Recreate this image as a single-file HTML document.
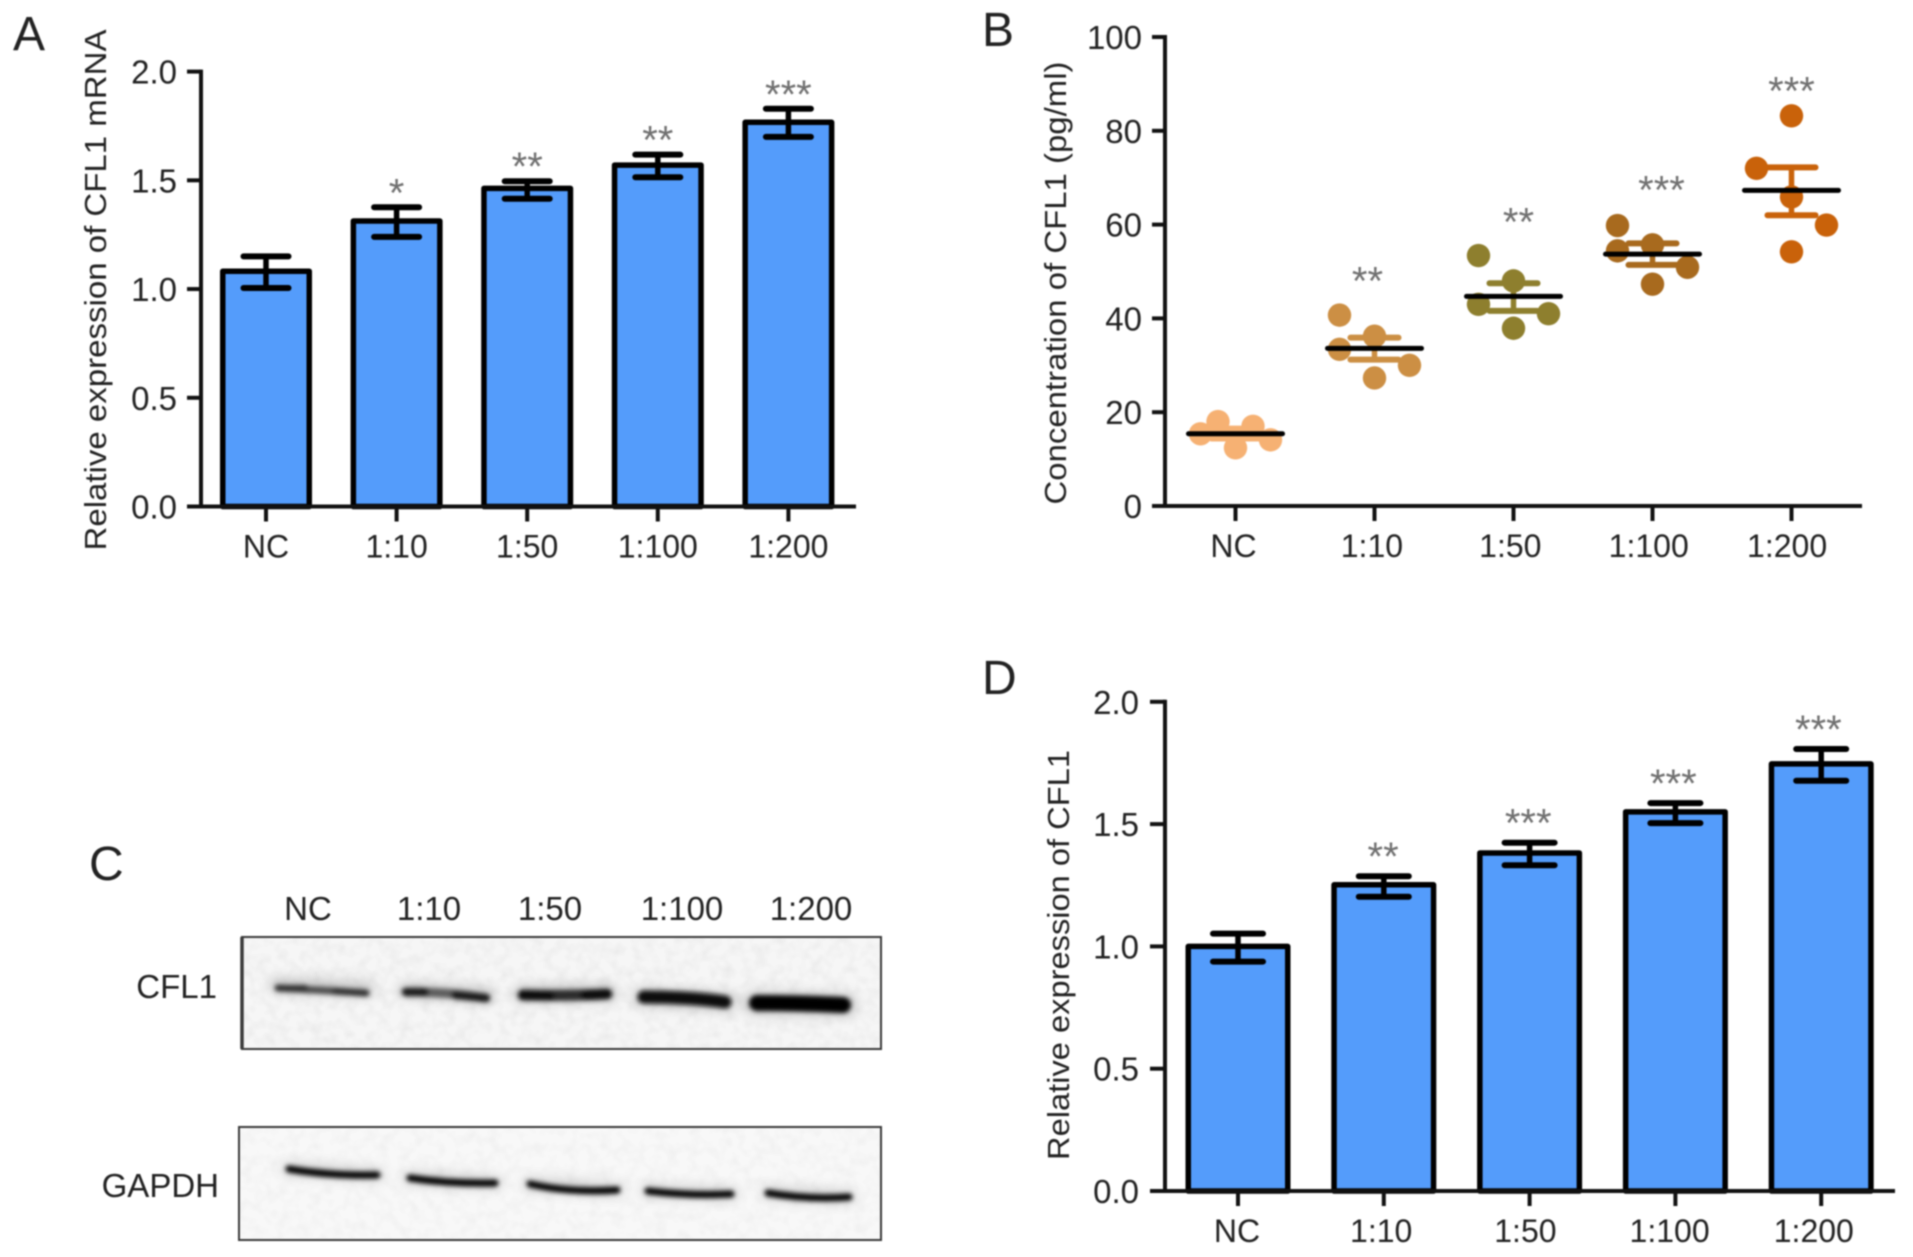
<!DOCTYPE html>
<html>
<head>
<meta charset="utf-8">
<title>CFL1 expression figure</title>
<style>
html,body{margin:0;padding:0;background:#fff;}
body{width:1913px;height:1257px;overflow:hidden;}
svg{display:block;filter:blur(0.7px);}
text{font-family:"Liberation Sans",sans-serif;fill:#222;}
</style>
</head>
<body>
<svg id="fig" xmlns="http://www.w3.org/2000/svg" width="1913" height="1257" viewBox="0 0 1913 1257">
  <defs>
    <filter id="bandBlur" x="-20%" y="-300%" width="140%" height="700%"><feGaussianBlur stdDeviation="2.4"/></filter>
    <filter id="haloBlur" x="-20%" y="-400%" width="140%" height="900%"><feGaussianBlur stdDeviation="6"/></filter>
    <filter id="blotNoise" x="0" y="0" width="100%" height="100%">
      <feTurbulence type="fractalNoise" baseFrequency="0.09" numOctaves="2" seed="7"/>
      <feColorMatrix type="matrix" values="0 0 0 0 0.55  0 0 0 0 0.55  0 0 0 0 0.55  0.9 0 0 0 -0.36"/>
    </filter>
  </defs>
  <rect width="1913" height="1257" fill="#fff"/>

  <text x="13" y="50" font-size="48">A</text>
  <text x="982" y="46" font-size="48">B</text>
  <text x="89" y="880" font-size="48">C</text>
  <text x="982" y="694" font-size="48">D</text>

  <g id="panelA"></g>
  <g id="panelB"></g>
  <g id="panelD"></g>

  <g>
    <g font-size="33">
      <text x="308" y="920" text-anchor="middle">NC</text>
      <text x="429" y="920" text-anchor="middle">1:10</text>
      <text x="550" y="920" text-anchor="middle">1:50</text>
      <text x="682" y="920" text-anchor="middle">1:100</text>
      <text x="811" y="920" text-anchor="middle">1:200</text>
      <text x="217" y="998" text-anchor="end">CFL1</text>
      <text x="219" y="1197" text-anchor="end">GAPDH</text>
    </g>
    <g>
      <rect x="242" y="937" width="639" height="112" fill="#f6f6f6"/>
      <rect x="242" y="937" width="639" height="112" filter="url(#blotNoise)" opacity="0.5"/>
      <g fill="none" stroke-linecap="round">
        <g filter="url(#haloBlur)" opacity="0.35" stroke="#666">
          <path d="M276 985 L368 989" stroke-width="14"/>
          <path d="M405 990 L488 995" stroke-width="14"/>
          <path d="M521 994 L609 993" stroke-width="16"/>
          <path d="M642 997 L727 1002" stroke-width="18"/>
          <path d="M754 1003 L846 1005" stroke-width="22"/>
        </g>
        <g filter="url(#bandBlur)">
          <path d="M278 988 Q320 990 366 993" stroke="#4a4a4a" stroke-width="7"/>
          <path d="M278 988 L305 988 M335 991 L366 993" stroke="#2a2a2a" stroke-width="6"/>
          <path d="M406 992 Q450 992 486 998" stroke="#5c5c5c" stroke-width="9"/>
          <path d="M406 992 L425 992 M455 995 L486 998" stroke="#141414" stroke-width="8"/>
          <path d="M523 995 Q570 996 607 994" stroke="#2c2c2c" stroke-width="11"/>
          <path d="M523 995 L550 996 M585 995 L607 994" stroke="#0a0a0a" stroke-width="9"/>
          <path d="M644 997 Q690 997 725 1002" stroke="#0c0c0c" stroke-width="13"/>
          <path d="M757 1003 Q800 1003 843 1005" stroke="#000" stroke-width="16"/>
        </g>
      </g>
      <rect x="242" y="937" width="639" height="112" fill="none" stroke="#3a3a3a" stroke-width="2"/>
      <line x1="242" y1="937" x2="242" y2="1049" stroke="#3a3a3a" stroke-width="3.5"/>
    </g>
    <g>
      <rect x="239" y="1127" width="642" height="113" fill="#f8f8f8"/>
      <rect x="239" y="1127" width="642" height="113" filter="url(#blotNoise)" opacity="0.35"/>
      <g fill="none" stroke-linecap="round">
        <g filter="url(#haloBlur)" opacity="0.3" stroke="#666">
          <path d="M288 1169 L378 1175" stroke-width="12"/>
          <path d="M409 1178 L496 1183" stroke-width="12"/>
          <path d="M529 1184 L618 1190" stroke-width="12"/>
          <path d="M647 1191 L732 1194" stroke-width="12"/>
          <path d="M767 1193 L850 1197" stroke-width="12"/>
        </g>
        <g filter="url(#bandBlur)">
          <path d="M289 1169 Q330 1176 377 1175" stroke="#000" stroke-width="7"/>
          <path d="M410 1178 Q450 1184 495 1183" stroke="#000" stroke-width="7"/>
          <path d="M530 1184 Q570 1193 617 1190" stroke="#000" stroke-width="7"/>
          <path d="M648 1191 Q690 1196 731 1194" stroke="#050505" stroke-width="7"/>
          <path d="M768 1193 Q810 1200 849 1197" stroke="#050505" stroke-width="7"/>
        </g>
      </g>
      <rect x="239" y="1127" width="642" height="113" fill="none" stroke="#3a3a3a" stroke-width="2"/>
    </g>
  </g>
</svg>

<script>
var categories = ["NC", "1:10", "1:50", "1:100", "1:200"];

var ticksRatio = ["0.0", "0.5", "1.0", "1.5", "2.0"];
var ticksConc = ["0", "20", "40", "60", "80", "100"];

var aMeans = [1.082, 1.313, 1.463, 1.57, 1.767];
var aUpper = [1.15, 1.376, 1.496, 1.618, 1.829];
var aLower = [1.005, 1.24, 1.415, 1.514, 1.70];
var aStars = ["", "*", "**", "**", "***"];

var dMeans = [1.0, 1.252, 1.382, 1.55, 1.746];
var dUpper = [1.052, 1.287, 1.424, 1.586, 1.807];
var dLower = [0.938, 1.203, 1.332, 1.504, 1.677];
var dStars = ["", "**", "***", "***", "***"];

var bPoints = [
  [15.4, 18.0, 12.4, 17.0, 14.1],
  [40.7, 33.4, 36.2, 30.0, 27.3],
  [53.4, 43.0, 48.0, 41.0, 37.9],
  [59.8, 54.4, 55.7, 50.9, 47.3],
  [83.2, 72.0, 65.9, 59.9, 54.2]
];
var bSwarmSlots = [
  [-1, -0.5, 0, 0.5, 1],
  [-1, -1, 0, 1, 0],
  [-1, -1, 0, 1, 0],
  [-1, -1, 0, 1, 0],
  [0, -1, 0, 1, 0]
];
var bMeans = [15.4, 33.6, 44.7, 53.7, 67.3];
var bUpper = [16.5, 35.9, 47.5, 56.0, 72.2];
var bLower = [14.4, 31.2, 41.6, 51.4, 62.0];
var bStars = ["", "**", "**", "***", "***"];
var bStarLevels = [0, 49.6, 62.2, 69.0, 90.1];
var bColors = ["#f6b173", "#cc8f44", "#8e7f2e", "#a86a1e", "#c9620a"];

var NS = "http://www.w3.org/2000/svg";

function mk(parent, tag, attrs, txt) {
  var e = document.createElementNS(NS, tag);
  for (var k in attrs) e.setAttribute(k, attrs[k]);
  if (txt !== undefined) e.textContent = txt;
  parent.appendChild(e);
  return e;
}

function drawLine(parent, x1, y1, x2, y2, color, w, cap) {
  return mk(parent, "line", {x1: x1, y1: y1, x2: x2, y2: y2, stroke: color, "stroke-width": w, "stroke-linecap": cap || "butt"});
}

function drawAxes(g, cfg, yOf, xOf, ticks, tickVal) {
  var yAxis = drawLine(g, cfg.axisX, yOf(tickVal(ticks.length - 1)) - 2, cfg.axisX, cfg.y0 + 2, "#111", 4);
  
  
  var xAxis = drawLine(g, cfg.axisStart, cfg.y0, cfg.axisEnd, cfg.y0, "#111", 4);
  
  
  ticks.forEach(function (t, i) {
    var y = yOf(tickVal(i));
    var tick = drawLine(g, cfg.axisStart, y, cfg.axisX, y, "#111", 4);
    
    
    var lbl = mk(g, "text", {x: cfg.tickLabelX, y: y + 12, "text-anchor": "end", "font-size": 33}, t);
    
    
  });
  categories.forEach(function (c, i) {
    var x = xOf(i);
    var tick = drawLine(g, x, cfg.y0, x, cfg.y0 + 15, "#111", 4);
    
    
    var lbl = mk(g, "text", {x: x + cfg.labelDx + cfg.labelShift * i, y: cfg.y0 + 51, "text-anchor": "middle", "font-size": 32}, c);
    
    
  });
  var title = mk(g, "text", {
    transform: "translate(" + cfg.titleX + "," + cfg.titleY + ") rotate(-90)",
    "text-anchor": "middle", "font-size": 31, textLength: cfg.titleLen, lengthAdjust: "spacingAndGlyphs"
  }, cfg.title);
  
  
}

function drawStars(g, x, y, s) {
  if (!s) return;
  var t = mk(g, "text", {x: x, y: y + 21, "text-anchor": "middle", "font-size": 40, style: "fill:#707070"}, s);
  
  
}

function barChart(id, cfg, means, upper, lower, stars) {
  var g = document.getElementById(id);
  function yOf(v) { return cfg.y0 + (cfg.yTop - cfg.y0) * v / 2; }
  function xOf(i) { return cfg.x0 + cfg.step * i; }
  means.forEach(function (m, i) {
    var x = xOf(i), hw = cfg.barW / 2 - 2.75;
    var bar = mk(g, "rect", {x: x - hw, y: yOf(m), width: hw * 2, height: cfg.y0 - yOf(m), fill: "#549cfb", stroke: "#000", "stroke-width": 5.5, "stroke-linejoin": "round"});
    
    
    var stem = drawLine(g, x, yOf(upper[i]), x, yOf(lower[i]), "#000", 5.5);
    
    
    var capT = drawLine(g, x - cfg.capW / 2, yOf(upper[i]), x + cfg.capW / 2, yOf(upper[i]), "#000", 6, "round");
    
    
    var capB = drawLine(g, x - cfg.capW / 2, yOf(lower[i]), x + cfg.capW / 2, yOf(lower[i]), "#000", 6, "round");
    
    
    drawStars(g, x + cfg.starDrift * i, yOf(upper[i]) - cfg.starGap, stars[i]);
  });
  drawAxes(g, cfg, yOf, xOf, ticksRatio, function (i) { return i * 0.5; });
}

function dotChart(id, cfg) {
  var g = document.getElementById(id);
  function yOf(v) { return cfg.y0 + (cfg.yTop - cfg.y0) * v / 100; }
  function xOf(i) { return cfg.x0 + cfg.step * i; }
  categories.forEach(function (c, i) {
    var x = xOf(i);
    bPoints[i].forEach(function (p, j) {
      var dot = mk(g, "circle", {cx: x + bSwarmSlots[i][j] * cfg.swarmDx, cy: yOf(p), r: 11.7, fill: bColors[i]});
      
      
    });
    var stem = drawLine(g, x, yOf(bUpper[i]), x, yOf(bLower[i]), bColors[i], 5.5);
    
    
    var capT = drawLine(g, x - 24, yOf(bUpper[i]), x + 24, yOf(bUpper[i]), bColors[i], 6, "round");
    
    
    var capB = drawLine(g, x - 24, yOf(bLower[i]), x + 24, yOf(bLower[i]), bColors[i], 6, "round");
    
    
    var mean = drawLine(g, x - 47, yOf(bMeans[i]), x + 47, yOf(bMeans[i]), "#000", 5, "round");
    
    
    if (bStars[i]) drawStars(g, x + cfg.starDx[i], yOf(bStarLevels[i]), bStars[i]);
  });
  drawAxes(g, cfg, yOf, xOf, ticksConc, function (i) { return i * 20; });
}

barChart("panelA", {
  axisX: 201, axisStart: 187, axisEnd: 856, y0: 506.5, yTop: 71.6,
  x0: 266, step: 130.6, barW: 92, capW: 45, starGap: 22, starDrift: 0, tickLabelX: 177, labelDx: 0, labelShift: 0,
  title: "Relative expression of CFL1 mRNA", titleX: 106, titleY: 290, titleLen: 521
}, aMeans, aUpper, aLower, aStars);

dotChart("panelB", {
  axisX: 1165, axisStart: 1152, axisEnd: 1862, y0: 506, yTop: 37,
  x0: 1235.5, step: 139, swarmDx: 35, tickLabelX: 1142, labelDx: -2, labelShift: -0.6, starDx: [0, -7, 5, 9, 0],
  title: "Concentration of CFL1 (pg/ml)", titleX: 1066, titleY: 283, titleLen: 443
});

barChart("panelD", {
  axisX: 1165, axisStart: 1150, axisEnd: 1895, y0: 1191, yTop: 701.8,
  x0: 1238, step: 145.8, barW: 105, capW: 50, starGap: 27, starDrift: -0.7, tickLabelX: 1139, labelDx: -1, labelShift: -1.6,
  title: "Relative expression of CFL1", titleX: 1069, titleY: 955, titleLen: 410
}, dMeans, dUpper, dLower, dStars);
</script>
</body>
</html>
